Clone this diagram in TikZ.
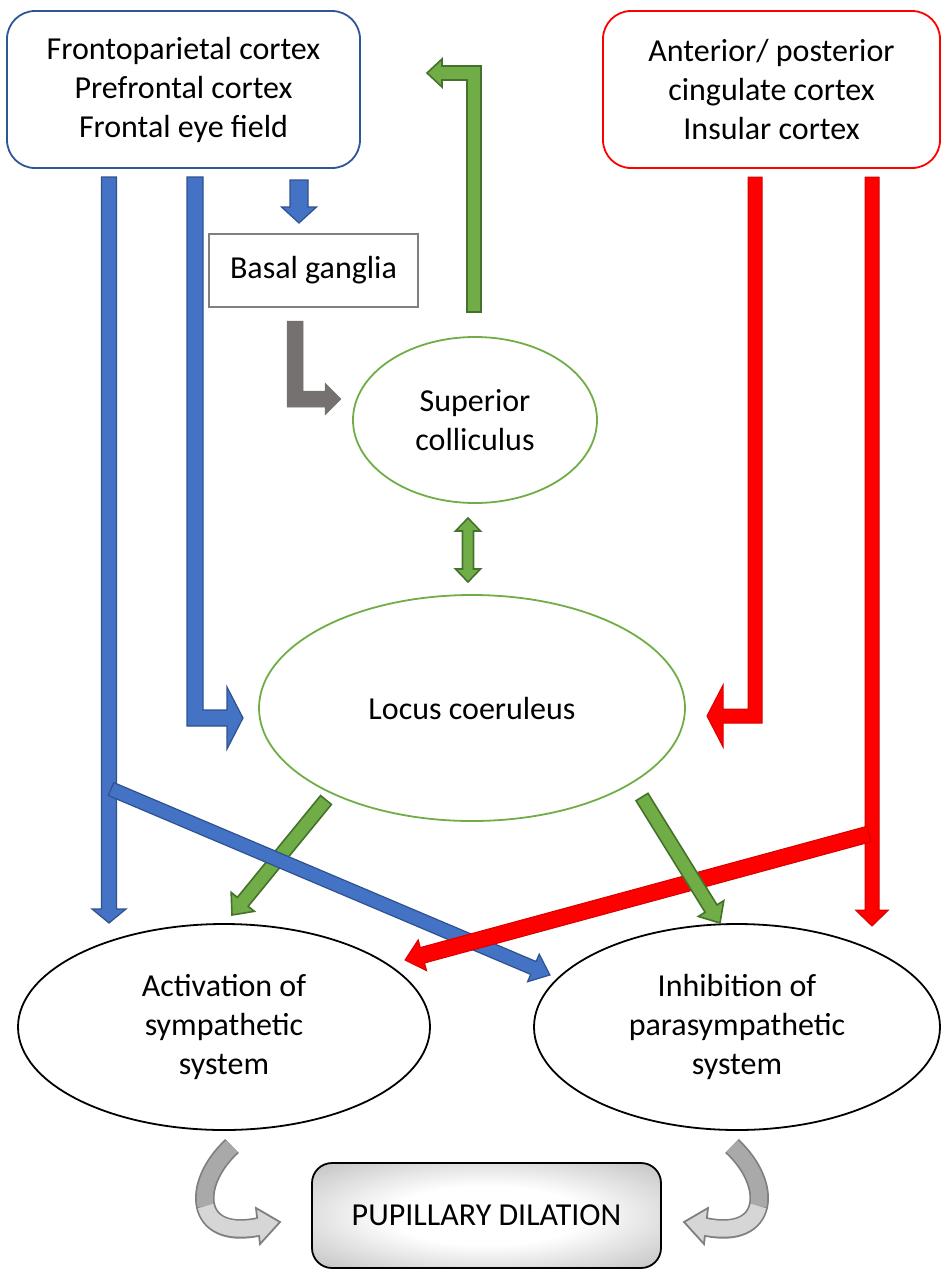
\documentclass[tikz,border=0pt]{standalone}
\usepackage{fontspec}
\setmainfont{Carlito}
\usetikzlibrary{calc,shapes.geometric}
\definecolor{cblue}{HTML}{4472C4}
\definecolor{cblueD}{HTML}{2F528F}
\definecolor{cred}{HTML}{FF0000}
\definecolor{credD}{HTML}{D80000}
\definecolor{cgreen}{HTML}{70AD47}
\definecolor{cgreenD}{HTML}{46712C}
\definecolor{cgray}{HTML}{767171}
\definecolor{boxblue}{HTML}{2F5597}
\definecolor{curveD}{HTML}{7F7F7F}
\definecolor{curveM}{HTML}{A9A9A9}
\definecolor{curveL}{HTML}{D6D6D6}
\pgfdeclareradialshading{pdshade}{\pgfpoint{0bp}{0bp}}{%
  color(0bp)=(white); color(14bp)=(white); color(50bp)=(black!40); color(72bp)=(black!50)}

% straight block arrow: style, from, to, shaft half, head half, head length
\newcommand\barrow[6]{%
 \path let \p1=($(#3)-(#2)$), \n1={atan2(\y1,\x1)}, \n2={veclen(\x1,\y1)} in
   \pgfextra{\xdef\baang{\n1}\xdef\balen{\n2}};
 \begin{scope}[shift={(#2)},rotate=\baang]
  \filldraw[#1] (0,-#4) -- ({\balen-#6},-#4) -- ({\balen-#6},-#5) -- (\balen,0)
     -- ({\balen-#6},#5) -- ({\balen-#6},#4) -- (0,#4) -- cycle;
 \end{scope}}
% elbow block arrow: style, start, corner, tip, shaft half, head half, head length, sx, sy
\newcommand\elbow[9]{%
 \filldraw[#1] ($(#2)+({-#8*#5},0)$) -- ($(#3)+({-#8*#5},{#9*#5})$)
   -- ($(#4)+({-#8*#7},{#9*#5})$) -- ($(#4)+({-#8*#7},{#9*#6})$) -- (#4)
   -- ($(#4)+({-#8*#7},{-#9*#6})$) -- ($(#4)+({-#8*#7},{-#9*#5})$)
   -- ($(#3)+({#8*#5},{-#9*#5})$) -- ($(#2)+({#8*#5},0)$) -- cycle;}

\tikzset{
  txt/.style={font=\fontsize{32}{39}\selectfont, align=center, inner sep=0pt},
  cbox/.style={txt, rounded corners=28pt, line width=1.8pt, fill=white},
  oval/.style={txt, ellipse, line width=1.8pt},
  bluearr/.style={fill=cblue, draw=cblueD, line width=1.2pt, line join=miter},
  redarr/.style={fill=cred, draw=credD, line width=1pt, line join=miter},
  greenarr/.style={fill=cgreen, draw=cgreenD, line width=1.6pt, line join=miter},
  grayarr/.style={fill=cgray, draw=cgray, line width=0.5pt},
  curveout/.style={line width=19.5pt, draw=curveD},
  curvedark/.style={line width=16pt, draw=curveM},
  curvelight/.style={line width=16pt, draw=curveL},
  curvehead/.style={fill=curveL, draw=curveD, line width=1.8pt, line join=miter}
}

\begin{document}
\begin{tikzpicture}[x=1pt,y=-1pt]
\useasboundingbox (0,0) rectangle (942,1270);

% nodes
\node[cbox, draw=boxblue, minimum width=353pt, minimum height=157pt] (fp) at (183.5,89.5)
  {Frontoparietal cortex\\Prefrontal cortex\\Frontal eye field};
\node[cbox, draw=cred, minimum width=337pt, minimum height=157pt] (ac) at (771.5,89.5)
  {Anterior/ posterior\\cingulate cortex\\Insular cortex};
\node[txt, draw=black!50, line width=1.8pt, minimum width=209pt, minimum height=73pt] (bg) at (313.5,270.5) {Basal ganglia};
\node[oval, draw=cgreen, minimum width=244pt, minimum height=166pt] (sc) at (475,420) {Superior\\colliculus};
\node[oval, draw=cgreen, minimum width=426pt, minimum height=226pt] (lc) at (472,708) {Locus coeruleus};
\node[oval, draw=black, minimum width=412pt, minimum height=206pt] (sym) at (224,1027) {Activation of\\sympathetic\\system};
\node[oval, draw=black, minimum width=406pt, minimum height=206pt] (par) at (737,1027) {Inhibition of\\parasympathetic\\system};
\node[txt, draw=black, line width=1.8pt, rounded corners=20pt, shade, shading=pdshade,
  minimum width=349pt, minimum height=105pt] (pd) at (486.5,1215.5) {PUPILLARY DILATION};

% connector end points
\coordinate (a1s) at (109,177);  \coordinate (a1t) at (109,923);
\coordinate (a2s) at (195,177);  \coordinate (a2c) at (195,718); \coordinate (a2t) at (243,718);
\coordinate (a3s) at (299,180);  \coordinate (a3t) at (299,223);
\coordinate (gys) at (295,321);  \coordinate (gyc) at (295,399); \coordinate (gyt) at (341,399);
\coordinate (gns) at (474,312);  \coordinate (gnc) at (474,73);  \coordinate (gnt) at (427,73);
\coordinate (r1s) at (755,177);  \coordinate (r1c) at (755,716); \coordinate (r1t) at (707,716);
\coordinate (r2s) at (872,177);  \coordinate (r2t) at (872,926);
\coordinate (bds) at (111,789);  \coordinate (bdt) at (550,975);
\coordinate (rds) at (869,834);  \coordinate (rdt) at (405,960);
\coordinate (g1s) at (326,800);  \coordinate (g1t) at (232,915);
\coordinate (g2s) at (642,797);  \coordinate (g2t) at (720,923);
\coordinate (dt) at (468,518);   \coordinate (db) at (468,582);

% blue
\barrow{bluearr}{a1s}{a1t}{7.5}{17}{14}
\elbow{bluearr}{a2s}{a2c}{a2t}{8}{31}{16}{1}{1}
\barrow{bluearr}{a3s}{a3t}{9}{17.5}{16}
% gray and green elbows
\elbow{grayarr}{gys}{gyc}{gyt}{8}{16}{16}{1}{1}
\elbow{greenarr}{gns}{gnc}{gnt}{7}{14}{15}{-1}{-1}
% red
\elbow{redarr}{r1s}{r1c}{r1t}{7}{31}{16}{-1}{1}
\barrow{redarr}{r2s}{r2t}{7}{16.5}{16}
% double green arrow
\filldraw[greenarr] (dt) -- ($(dt)+(12.5,13)$) -- ($(dt)+(5.5,13)$) -- ($(db)+(5.5,-13)$)
  -- ($(db)+(12.5,-13)$) -- (db) -- ($(db)+(-12.5,-13)$) -- ($(db)+(-5.5,-13)$)
  -- ($(dt)+(-5.5,13)$) -- ($(dt)+(-12.5,13)$) -- cycle;
% diagonals
\barrow{greenarr}{g1s}{g1t}{7}{15}{17}
\barrow{bluearr}{bds}{bdt}{7}{15}{18}
\barrow{redarr}{rds}{rdt}{8}{16}{18}
\barrow{greenarr}{g2s}{g2t}{7}{15}{17}

% curved arrows to pupillary dilation
\coordinate (cl0) at (232,1146); \coordinate (clm) at (205.6,1206); \coordinate (cl1) at (258,1227);
\coordinate (cr0) at (732,1146); \coordinate (crm) at (758.4,1206); \coordinate (cr1) at (706,1227);
\draw[curveout] (cl0) .. controls (190,1185) and (195,1240) .. (cl1);
\filldraw[curvehead] ($(cl1)+(-2,-19)$) -- (280,1222) -- ($(cl1)+(2,17)$) -- cycle;
\draw[curvedark] (cl0) .. controls (211,1165.5) and (201.75,1189) .. (clm);
\draw[curvelight] (clm) .. controls (209.5,1223) and (226.5,1233.5) .. ($(cl1)+(2,-0.4)$);
\draw[curveout] (cr0) .. controls (774,1185) and (769,1240) .. (cr1);
\filldraw[curvehead] ($(cr1)+(2,-19)$) -- (684,1222) -- ($(cr1)+(-2,17)$) -- cycle;
\draw[curvedark] (cr0) .. controls (753,1165.5) and (762.25,1189) .. (crm);
\draw[curvelight] (crm) .. controls (754.5,1223) and (737.5,1233.5) .. ($(cr1)+(-2,-0.4)$);
\end{tikzpicture}
\end{document}
